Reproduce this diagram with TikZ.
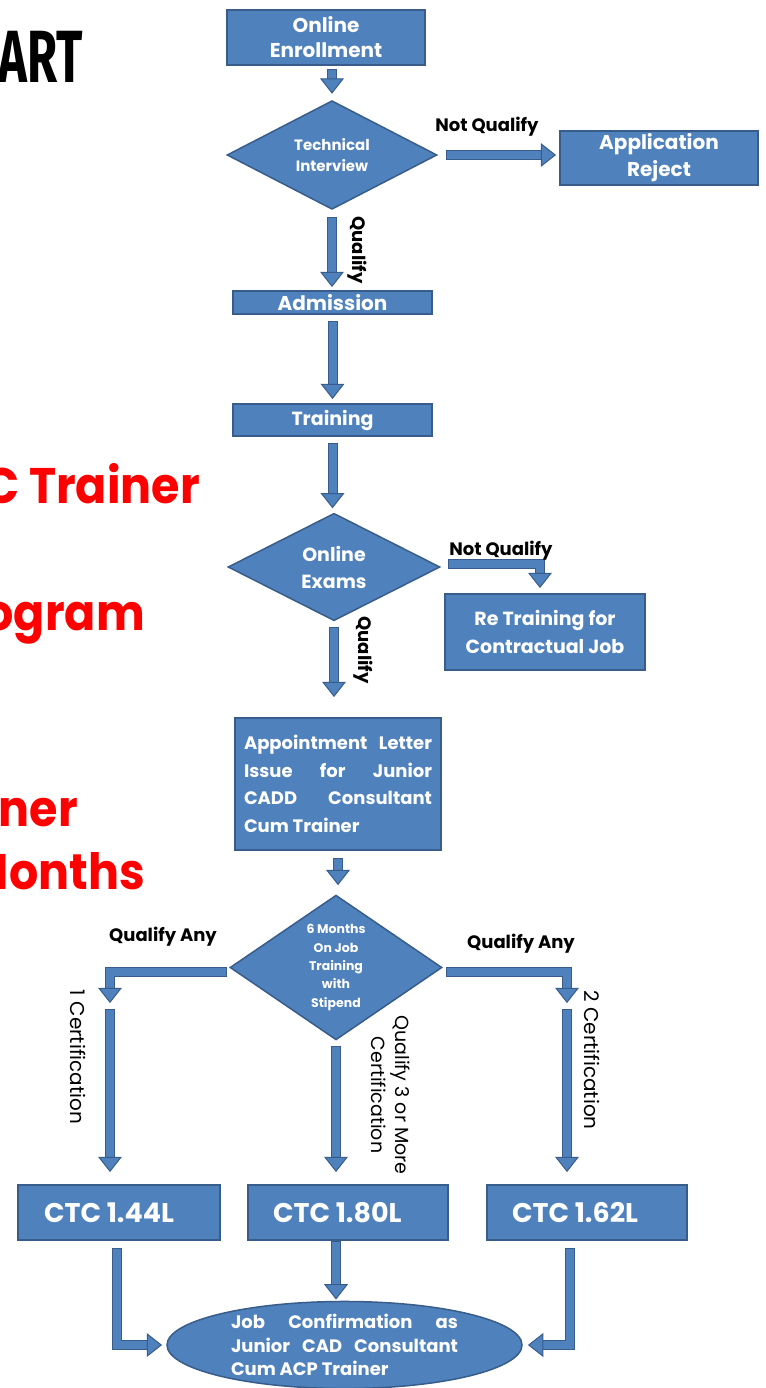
\documentclass[tikz,border=0pt]{standalone}
\usepackage{fontspec}
\setmainfont{Poppins}
\newfontfamily\artfont{Fira Sans}
\usetikzlibrary{shapes.geometric,calc}
\definecolor{bfill}{HTML}{4F81BD}
\definecolor{bdark}{HTML}{385D8A}
\definecolor{tred}{HTML}{FF0000}
\newcommand\fs[1]{\fontsize{#1}{1.2\dimexpr#1pt\relax}\selectfont}
\newcommand\ahD[1]{\draw[ahead] (#1) -- ++(-11,-14) -- ++(22,0) -- cycle;}
\newcommand\ahR[1]{\draw[ahead] (#1) -- ++(-14,-11) -- ++(0,22) -- cycle;}
\newcommand\ahL[1]{\draw[ahead] (#1) -- ++(14,-11) -- ++(0,22) -- cycle;}
\begin{document}
\begin{tikzpicture}[x=1pt,y=-1pt,
  box/.style={rectangle, draw=bdark, line width=1.5pt, fill=bfill, text=white, inner sep=0, align=center},
  dia/.style={diamond, draw=bdark, line width=1.5pt, fill=bfill, text=white, inner sep=0, align=center},
  lbl/.style={text=black, inner sep=0, font=\bfseries\fs{18}},
  cert/.style={text=black, inner sep=0, rotate=-90, font=\fs{20}},
  big/.style={text=tred, inner sep=0, anchor=base east, xscale=0.92, font=\bfseries\fontsize{50}{56}\selectfont},
  ahead/.style={draw=bdark, line width=1pt, fill=bfill, line join=miter},
  shaft/.style={draw=bdark, line width=10pt, line join=miter, shorten >=14pt,
     postaction={draw=bfill, line width=8pt, shorten <=1pt, shorten >=11pt}}]
\useasboundingbox (0,0) rectangle (765,1388);
\clip (0,0) rectangle (765,1388);
\fill[white] (0,0) rectangle (765,1388);

% side texts (cropped at the left edge, as in the reference)
\node[anchor=base east, inner sep=0, font=\artfont\bfseries\fontsize{74}{80}\selectfont, xscale=0.66] (art) at (83,83) {ART};
\node[big] (r1) at (200,503) {C Trainer};
\node[big] (r2) at (145,630) {ogram};
\node[big] (r3) at (78,826) {ner};
\node[big] (r4) at (145,889) {Months};

% nodes
\node[box, minimum width=198, minimum height=55, font=\bfseries\fontsize{20}{25}\selectfont] (enr) at (326,37.5) {Online\\Enrollment};
\node[dia, minimum width=210, minimum height=90, font=\bfseries\fontsize{15}{21}\selectfont] (tech) at (332,155) {Technical\\Interview};
\node[box, minimum width=198, minimum height=54, font=\bfseries\fontsize{20}{27}\selectfont] (rej) at (659,158) {Application\\Reject};
\node[box, minimum width=199, minimum height=23, font=\bfseries\fontsize{20}{22}\selectfont] (adm) at (332.5,302.5) {Admission};
\node[box, minimum width=199, minimum height=32, font=\bfseries\fontsize{19}{22}\selectfont] (trn) at (332.5,420) {Training};
\node[dia, minimum width=212, minimum height=100, font=\bfseries\fontsize{19}{27}\selectfont] (exam) at (334,567) {Online\\Exams};
\node[box, minimum width=200, minimum height=76, font=\bfseries\fontsize{19}{28}\selectfont] (retr) at (545,632) {Re Training for\\Contractual Job};
\node[box, minimum width=206, minimum height=132, font=\bfseries\fontsize{18}{27.5}\selectfont, align=left] (appt) at (338,784)
  {\makebox[188pt][s]{Appointment Letter}\\\makebox[188pt][s]{Issue for Junior}\\\makebox[188pt][s]{CADD Consultant}\\\makebox[188pt][l]{Cum Trainer}};
\node[dia, minimum width=212, minimum height=135, font=\bfseries\fontsize{12.5}{18.3}\selectfont] (ojt) at (336,967.5) {6 Months\\On Job\\Training\\with\\Stipend};
\node[box, minimum width=202, minimum height=55, font=\bfseries\fontsize{27}{30}\selectfont] (c1) at (119,1212.5) {\makebox[150pt][l]{CTC 1.44L}};
\node[box, minimum width=200, minimum height=55, font=\bfseries\fontsize{27}{30}\selectfont] (c2) at (348,1212.5) {\makebox[150pt][l]{CTC 1.80L}};
\node[box, minimum width=200, minimum height=55, font=\bfseries\fontsize{27}{30}\selectfont] (c3) at (587,1212.5) {\makebox[150pt][l]{CTC 1.62L}};
\node[ellipse, draw=bdark, line width=1.5pt, fill=bfill, text=white, inner sep=0, minimum width=355, minimum height=86,
      align=left, font=\bfseries\fontsize{18}{23.5}\selectfont] (job) at (344.5,1345)
  {\makebox[227pt][s]{Job Confirmation as}\\\makebox[227pt][s]{Junior CAD Consultant}\\\makebox[227pt][l]{Cum ACP Trainer}};

% connectors
\coordinate (a1t) at ([yshift=7pt]tech.north);
\draw[shaft] ([yshift=-3pt]enr.south -| a1t) -- (a1t); \ahD{a1t}

\coordinate (a2t) at ([xshift=-4pt]rej.west |- tech.east);
\draw[shaft] ([xshift=8pt]tech.east) -- (a2t); \ahR{a2t}
\node[lbl] (l1) at (487,127) {Not Qualify};

\coordinate (a3t) at ([yshift=4pt]adm.north -| tech.south);
\draw[shaft] ([yshift=-7pt]tech.south) -- (a3t); \ahD{a3t}
\node[lbl, rotate=-90] (l2) at (357,250) {Qualify};

\coordinate (a4t) at ([yshift=5pt]trn.north);
\draw[shaft] ([yshift=-6pt]adm.south) -- (a4t); \ahD{a4t}

\coordinate (a5t) at ([yshift=5pt]exam.north -| trn.south);
\draw[shaft] ([yshift=-6pt]trn.south) -- (a5t); \ahD{a5t}

\coordinate (a6t) at ([xshift=-5pt,yshift=6pt]retr.north);
\draw[shaft] ([xshift=7pt,yshift=3pt]exam.east) -| (a6t); \ahD{a6t}
\node[lbl] (l3) at (501,551) {Not Qualify};

\coordinate (a7t) at ([yshift=21pt]appt.north -| exam.south);
\draw[shaft] ([yshift=-6pt]exam.south) -- (a7t); \ahD{a7t}
\node[lbl, rotate=-90] (l4) at (363,650) {Qualify};

\coordinate (a8t) at ([yshift=10pt]ojt.north -| appt.south);
\draw[shaft] ([yshift=-7pt]appt.south) -- (a8t); \ahD{a8t}

\coordinate (a9t) at ([xshift=-9pt,yshift=182pt]c1.north);
\draw[shaft] ([xshift=-2pt,yshift=-4pt]ojt.west) -| (a9t); \ahD{a9t}
\node[lbl] (l5) at (163,937) {Qualify Any};

\coordinate (a10t) at ([xshift=-9pt,yshift=13pt]c1.north);
\draw[shaft] ([xshift=-9pt,yshift=175pt]c1.north) -- (a10t); \ahD{a10t}
\node[cert] (l6) at (78,1057) {1 Certification};

\coordinate (a11t) at ([yshift=13pt]c2.north -| ojt.south);
\draw[shaft] ([yshift=-5pt]ojt.south) -- (a11t); \ahD{a11t}
\node[cert, align=center, font=\fontsize{19}{24}\selectfont] (l7) at (391,1095) {Qualify 3 or More\\Certification};

\coordinate (a12t) at ([xshift=-20pt,yshift=182pt]c3.north);
\draw[shaft] ([xshift=3pt,yshift=-4pt]ojt.east) -| (a12t); \ahD{a12t}
\node[lbl] (l8) at (521,944) {Qualify Any};

\coordinate (a13t) at ([xshift=-20pt,yshift=13pt]c3.north);
\draw[shaft] ([xshift=-20pt,yshift=175pt]c3.north) -- (a13t); \ahD{a13t}
\node[cert] (l9) at (592,1060) {2 Certification};

\coordinate (a14t) at ([xshift=-5pt]job.west);
\draw[shaft] ([xshift=-2pt,yshift=-7pt]c1.south) |- (a14t); \ahR{a14t}

\coordinate (a15t) at ([yshift=2pt]job.north -| ojt.south);
\draw[shaft] (c2.south -| ojt.south) -- (a15t); \ahD{a15t}

\coordinate (a16t) at ([xshift=6pt]job.east);
\draw[shaft] ([xshift=-17pt,yshift=-7pt]c3.south) |- (a16t); \ahL{a16t}
\end{tikzpicture}
\end{document}
